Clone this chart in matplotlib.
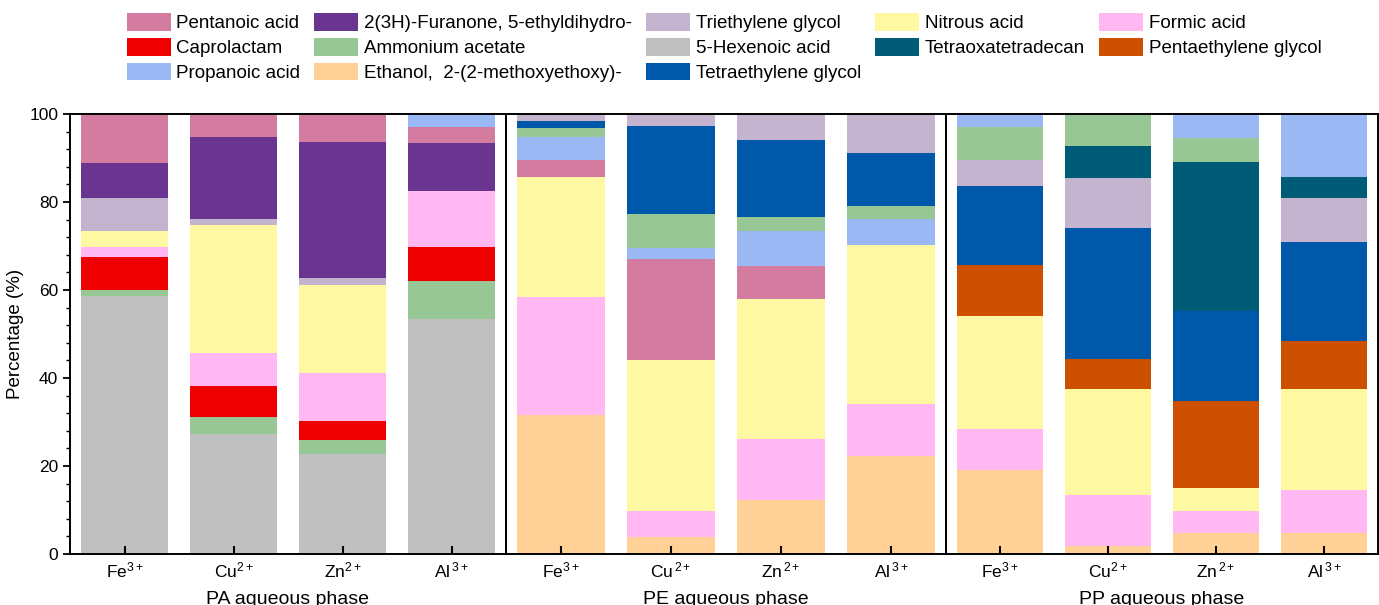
import numpy as np
import matplotlib.pyplot as plt
from matplotlib.patches import Patch

plt.rcParams['font.family'] = ['Liberation Sans', 'DejaVu Sans']
plt.rcParams['mathtext.fontset'] = 'custom'
plt.rcParams['mathtext.rm'] = 'Liberation Sans'
plt.rcParams['mathtext.it'] = 'Liberation Sans:italic'

# legend entries, column by column (5 columns)
compounds = ["Pentanoic acid", "Caprolactam", "Propanoic acid",
             "2(3H)-Furanone, 5-ethyldihydro-", "Ammonium acetate", "Ethanol,  2-(2-methoxyethoxy)-",
             "Triethylene glycol", "5-Hexenoic acid", "Tetraethylene glycol",
             "Nitrous acid", "Tetraoxatetradecan",
             "Formic acid", "Pentaethylene glycol"]
colors = ["#D47BA0", "#EE0000", "#9AB8F4",
          "#6A3590", "#96C795", "#FFD196",
          "#C4B4D0", "#C0C0C0", "#0058AA",
          "#FFF8A2", "#005B77",
          "#FFB8F2", "#CC5000"]
color_of = dict(zip(compounds, colors))

# ---- PA aqueous phase (Fe, Cu, Zn, Al), stacked bottom to top
pa_ticks = ["Fe$^{3+}$", "Cu$^{2+}$", "Zn$^{2+}$", "Al$^{\\,3+}$"]
pa_order = ["5-Hexenoic acid", "Ammonium acetate", "Caprolactam", "Formic acid", "Nitrous acid",
            "Triethylene glycol", "2(3H)-Furanone, 5-ethyldihydro-", "Pentanoic acid", "Propanoic acid"]
pa_hexenoic = [58.6, 27.3, 22.7, 53.4]
pa_ammonium = [1.4, 3.9, 3.3, 8.6]
pa_caprolactam = [7.5, 7.0, 4.2, 7.8]
pa_formic = [2.3, 7.5, 10.9, 12.6]
pa_nitrous = [3.5, 29.1, 20.0, 0]
pa_triethylene = [7.5, 1.3, 1.6, 0]
pa_furanone = [8.1, 18.7, 31.0, 10.9]
pa_pentanoic = [11.1, 5.2, 6.3, 3.7]
pa_propanoic = [0, 0, 0, 3.0]
pa_values = [pa_hexenoic, pa_ammonium, pa_caprolactam, pa_formic, pa_nitrous,
             pa_triethylene, pa_furanone, pa_pentanoic, pa_propanoic]

# ---- PE aqueous phase
pe_ticks = ["Fe$^{3+}$", "Cu$^{\\,2+}$", "Zn$^{\\,2+}$", "Al$^{\\,3+}$"]
pe_order = ["Ethanol,  2-(2-methoxyethoxy)-", "Formic acid", "Nitrous acid", "Pentanoic acid",
            "Propanoic acid", "Ammonium acetate", "Tetraethylene glycol", "Triethylene glycol"]
pe_ethanol = [31.6, 3.8, 12.3, 22.3]
pe_formic = [26.8, 6.0, 13.8, 11.9]
pe_nitrous = [27.3, 34.4, 31.9, 36.1]
pe_pentanoic = [3.8, 22.8, 7.5, 0]
pe_propanoic = [5.3, 2.5, 7.8, 5.8]
pe_ammonium = [2.1, 7.8, 3.4, 3.1]
pe_tetraethylene = [1.6, 20.0, 17.5, 12.0]
pe_triethylene = [1.5, 2.7, 5.8, 8.8]
pe_values = [pe_ethanol, pe_formic, pe_nitrous, pe_pentanoic, pe_propanoic,
             pe_ammonium, pe_tetraethylene, pe_triethylene]

# ---- PP aqueous phase
pp_ticks = ["Fe$^{3+}$", "Cu$^{2+}$", "Zn$^{\\,2+}$", "Al$^{\\,3+}$"]
pp_order = ["Ethanol,  2-(2-methoxyethoxy)-", "Formic acid", "Nitrous acid", "Pentaethylene glycol",
            "Tetraethylene glycol", "Triethylene glycol", "Tetraoxatetradecan", "Ammonium acetate",
            "Propanoic acid"]
pp_ethanol = [19.2, 1.9, 4.8, 4.7]
pp_formic = [9.2, 11.4, 5.0, 9.8]
pp_nitrous = [25.7, 24.2, 5.2, 23.0]
pp_pentaethylene = [11.5, 6.8, 19.7, 11.0]
pp_tetraethylene = [18.0, 29.9, 20.5, 22.5]
pp_triethylene = [5.9, 11.2, 0, 9.8]
pp_tetraoxa = [0, 7.3, 33.9, 4.9]
pp_ammonium = [7.5, 7.3, 5.4, 0]
pp_propanoic = [3.0, 0, 5.5, 14.3]
pp_values = [pp_ethanol, pp_formic, pp_nitrous, pp_pentaethylene, pp_tetraethylene,
             pp_triethylene, pp_tetraoxa, pp_ammonium, pp_propanoic]

panels = [("PA aqueous phase", pa_ticks, pa_order, pa_values),
          ("PE aqueous phase", pe_ticks, pe_order, pe_values),
          ("PP aqueous phase", pp_ticks, pp_order, pp_values)]


fig = plt.figure(figsize=(13.79, 6.05), dpi=100)

W, H = 1379.0, 605.0
bottom = 1 - 554 / H
height = (554 - 114) / H
edges = [70, 506, 946, 1378]

for i, (title, ticks, order, values) in enumerate(panels):
	ax = fig.add_axes([edges[i] / W, bottom, (edges[i + 1] - edges[i]) / W, height])
	x = np.arange(len(ticks))
	base = np.zeros(len(ticks))
	for name, vals in zip(order, values):
		vals = np.array(vals, dtype=float)
		ax.bar(x, vals, 0.8, bottom=base, color=color_of[name], edgecolor="none")
		base += vals

	ax.set_xlim(-0.5, 3.5)
	ax.set_ylim(0, 100)
	ax.set_xticks(x)
	ax.set_xticklabels(ticks, fontsize=12.5)
	ax.set_xlabel(title, fontsize=14, labelpad=7)
	ax.tick_params(axis="x", direction="in", length=6, width=1.5, pad=5)
	for s in ax.spines.values():
		s.set_linewidth(1.4)

	if i == 0:
		ax.set_ylabel("Percentage (%)", fontsize=13.5, labelpad=4)
		ax.set_yticks([0, 20, 40, 60, 80, 100])
		ax.set_yticks(np.arange(0, 101, 4), minor=True)
		ax.tick_params(axis="y", which="major", direction="out", length=5, width=1.3, labelsize=12.5)
		ax.tick_params(axis="y", which="minor", direction="out", length=3, width=1.0)
	else:
		ax.set_yticks([])

handles = [Patch(facecolor=c, edgecolor="none") for c in colors]
fig.legend(handles, compounds, loc="upper center", bbox_to_anchor=(0.525, 1.0), ncol=5,
           frameon=False, fontsize=13.5, handlelength=2.35, handleheight=1.07,
           handletextpad=0.3, columnspacing=0.75, labelspacing=0.3, borderaxespad=0.3)

fig.savefig("out.png", dpi=100)
